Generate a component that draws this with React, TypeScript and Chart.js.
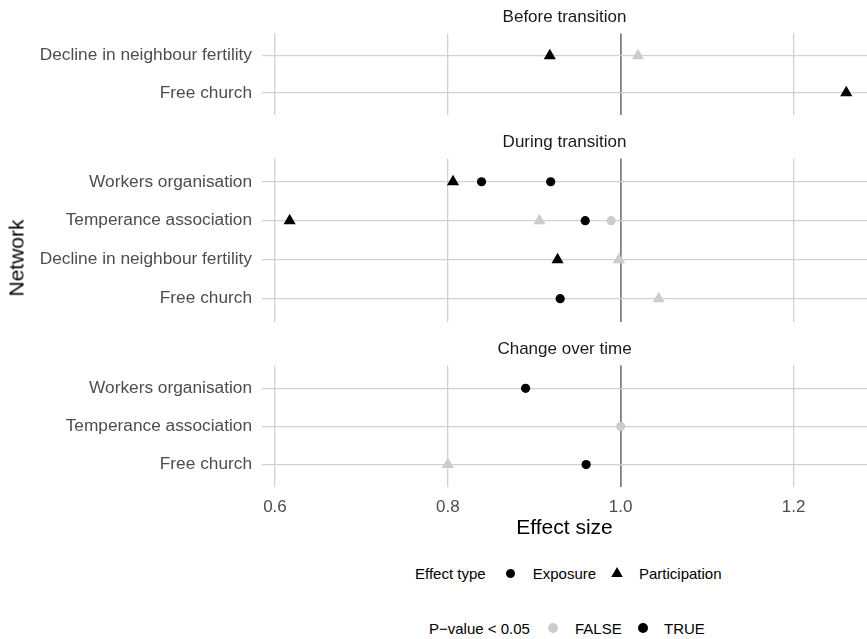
import React, { useEffect, useRef } from "react";
import { Chart, registerables } from "chart.js";

Chart.register(...registerables);

// ---------- data ----------
const X_MIN = 0.585;
const X_MAX = 1.285;
const X_TICKS = [0.6, 0.8, 1.0, 1.2];
const REF_LINE = 1.0;

const BEFORE_TITLE = "Before transition";
const BEFORE_NETWORKS = ["Decline in neighbour fertility", "Free church"];
const BEFORE_POINT_NETWORK = ["Decline in neighbour fertility", "Decline in neighbour fertility", "Free church"];
const BEFORE_EFFECT = [0.918, 1.02, 1.261];
const BEFORE_TYPE = ["Participation", "Participation", "Participation"];
const BEFORE_SIG = [true, false, true];

const DURING_TITLE = "During transition";
const DURING_NETWORKS = ["Workers organisation", "Temperance association", "Decline in neighbour fertility", "Free church"];
const DURING_POINT_NETWORK = [
  "Workers organisation", "Workers organisation", "Workers organisation",
  "Temperance association", "Temperance association", "Temperance association", "Temperance association",
  "Decline in neighbour fertility", "Decline in neighbour fertility",
  "Free church", "Free church",
];
const DURING_EFFECT = [0.806, 0.839, 0.919, 0.617, 0.906, 0.959, 0.989, 0.927, 0.998, 0.93, 1.044];
const DURING_TYPE = [
  "Participation", "Exposure", "Exposure",
  "Participation", "Participation", "Exposure", "Exposure",
  "Participation", "Participation",
  "Exposure", "Participation",
];
const DURING_SIG = [true, true, true, true, false, true, false, true, false, true, false];

const CHANGE_TITLE = "Change over time";
const CHANGE_NETWORKS = ["Workers organisation", "Temperance association", "Free church"];
const CHANGE_POINT_NETWORK = ["Workers organisation", "Temperance association", "Free church", "Free church"];
const CHANGE_EFFECT = [0.89, 1.0, 0.8, 0.96];
const CHANGE_TYPE = ["Exposure", "Exposure", "Participation", "Exposure"];
const CHANGE_SIG = [true, false, false, true];

const TYPE_LABELS = ["Exposure", "Participation"];
const SIG_LABELS = ["FALSE", "TRUE"];

// ---------- styles ----------
const FONT = "'Liberation Sans', Arial, Helvetica, sans-serif";
const BLACK = "#000000";
const GREY = "#cccccc";
const GRID = "#d1d1d1";
const REF_COLOR = "#7f7f7f";
const TICK_COLOR = "#4d4d4d";
const W = 867;

type PanelDef = {
  title: string;
  networks: string[];
  pointNetwork: string[];
  effect: number[];
  type: string[];
  sig: boolean[];
  top: number;
  height: number;
  showX: boolean;
};

const PANELS: PanelDef[] = [
  { title: BEFORE_TITLE, networks: BEFORE_NETWORKS, pointNetwork: BEFORE_POINT_NETWORK, effect: BEFORE_EFFECT, type: BEFORE_TYPE, sig: BEFORE_SIG, top: 0, height: 115, showX: false },
  { title: DURING_TITLE, networks: DURING_NETWORKS, pointNetwork: DURING_POINT_NETWORK, effect: DURING_EFFECT, type: DURING_TYPE, sig: DURING_SIG, top: 125, height: 197, showX: false },
  { title: CHANGE_TITLE, networks: CHANGE_NETWORKS, pointNetwork: CHANGE_POINT_NETWORK, effect: CHANGE_EFFECT, type: CHANGE_TYPE, sig: CHANGE_SIG, top: 332, height: 207, showX: true },
];

function PanelChart({ p }: { p: PanelDef }) {
  const ref = useRef<HTMLCanvasElement | null>(null);
  useEffect(() => {
    if (!ref.current) return;
    const chart = new Chart(ref.current, {
      type: "scatter",
      data: {
        datasets: [
          {
            data: p.effect.map((e, i) => ({ x: e, y: p.networks.indexOf(p.pointNetwork[i]) })),
            pointStyle: p.type.map((t) => (t === "Exposure" ? "circle" : "triangle")),
            pointRadius: p.type.map((t) => (t === "Exposure" ? 4.6 : 7)),
            backgroundColor: p.sig.map((s) => (s ? BLACK : GREY)),
            borderColor: p.sig.map((s) => (s ? BLACK : GREY)),
            borderWidth: 0,
          } as any,
        ],
      },
      options: {
        animation: false,
        responsive: false,
        events: [],
        layout: { padding: 0, autoPadding: false } as any,
        plugins: {
          legend: { display: false },
          tooltip: { enabled: false },
          title: {
            display: true,
            text: p.title,
            fullSize: false,
            color: "#1a1a1a",
            font: { size: 17, lineHeight: 1.2, weight: "normal", family: FONT },
            padding: { top: 7, bottom: 6 },
          },
        },
        scales: {
          x: {
            type: "linear",
            min: X_MIN,
            max: X_MAX,
            border: { display: false },
            afterBuildTicks: (s: any) => {
              s.ticks = X_TICKS.map((v) => ({ value: v }));
            },
            afterFit: (s: any) => {
              s.paddingLeft = 0;
              s.paddingRight = 0;
            },
            grid: {
              drawTicks: false,
              color: (ctx: any) => (ctx.tick && Math.abs(ctx.tick.value - REF_LINE) < 1e-9 ? REF_COLOR : GRID),
              lineWidth: (ctx: any) => (ctx.tick && Math.abs(ctx.tick.value - REF_LINE) < 1e-9 ? 1.8 : 1.3),
            },
            ticks: {
              display: p.showX,
              padding: 11.5,
              color: TICK_COLOR,
              autoSkip: false,
              maxRotation: 0,
              font: { size: 17, lineHeight: 1.0, family: FONT },
              callback: (v: any) => Number(v).toFixed(1),
            },
            title: {
              display: p.showX,
              text: "Effect size",
              color: BLACK,
              font: { size: 21, lineHeight: 1.2, family: FONT },
              padding: { top: -11.8, bottom: -1.8 },
            },
          },
          y: {
            type: "linear",
            reverse: true,
            min: -0.6,
            max: p.networks.length - 1 + 0.6,
            z: -1,
            border: { display: false },
            afterBuildTicks: (s: any) => {
              s.ticks = p.networks.map((_, i) => ({ value: i }));
            },
            afterFit: (s: any) => {
              s.width = 262;
              s.paddingTop = 0;
              s.paddingBottom = 0;
            },
            grid: { drawTicks: false, color: GRID, lineWidth: 1.3 },
            ticks: {
              padding: 10,
              color: TICK_COLOR,
              autoSkip: false,
              font: { size: 17.3, family: FONT },
              callback: (v: any) => p.networks[Math.round(Number(v))],
            },
          },
        },
      } as any,
    });
    return () => chart.destroy();
  }, [p]);
  return (
    <canvas
      ref={ref}
      width={W}
      height={p.height}
      style={{ position: "absolute", left: 0, top: p.top, width: W, height: p.height }}
    />
  );
}

function Circle({ cx, cy, d, color }: { cx: number; cy: number; d: number; color: string }) {
  return (
    <div
      style={{
        position: "absolute",
        left: cx - d / 2,
        top: cy - d / 2,
        width: d,
        height: d,
        borderRadius: "50%",
        background: color,
      }}
    />
  );
}

function Triangle({ cx, cy, w, color }: { cx: number; cy: number; w: number; color: string }) {
  const h = (w * Math.sqrt(3)) / 2;
  return (
    <svg
      width={w}
      height={h}
      style={{ position: "absolute", left: cx - w / 2, top: cy - h * 0.6 }}
    >
      <polygon points={`${w / 2},0 ${w},${h} 0,${h}`} fill={color} />
    </svg>
  );
}

function Label({ x, cy, size, text, color }: { x: number; cy: number; size: number; text: string; color?: string }) {
  return (
    <span
      style={{
        position: "absolute",
        left: x,
        top: cy - size / 2,
        fontSize: size,
        lineHeight: `${size}px`,
        whiteSpace: "nowrap",
        color: color || BLACK,
      }}
    >
      {text}
    </span>
  );
}

export default function App() {
  useEffect(() => {
    Chart.defaults.font.family = FONT;
  }, []);
  return (
    <div
      style={{
        position: "absolute",
        left: 0,
        top: 0,
        width: W,
        height: 639,
        background: "#ffffff",
        fontFamily: FONT,
        overflow: "hidden",
      }}
    >
      {PANELS.map((p, i) => (
        <PanelChart key={i} p={p} />
      ))}
      <div
        style={{
          position: "absolute",
          left: 16,
          top: 258,
          transform: "translate(-50%, -50%) rotate(-90deg)",
          fontSize: 21,
          lineHeight: "21px",
          whiteSpace: "nowrap",
          color: BLACK,
        }}
      >
        Network
      </div>
      {/* legend 1 */}
      <Label x={415} cy={573} size={15} text="Effect type" />
      <Circle cx={510.7} cy={573} d={9} color={BLACK} />
      <Label x={532.7} cy={573} size={15} text={TYPE_LABELS[0]} />
      <Triangle cx={617.3} cy={573} w={12} color={BLACK} />
      <Label x={639} cy={573} size={15} text={TYPE_LABELS[1]} />
      {/* legend 2 */}
      <Label x={429} cy={628} size={15} text={"P\u2212value < 0.05"} />
      <Circle cx={553} cy={628} d={10.5} color={GREY} />
      <Label x={575} cy={628} size={15} text={SIG_LABELS[0]} />
      <Circle cx={643} cy={628} d={10.5} color={BLACK} />
      <Label x={664} cy={628} size={15} text={SIG_LABELS[1]} />
    </div>
  );
}
